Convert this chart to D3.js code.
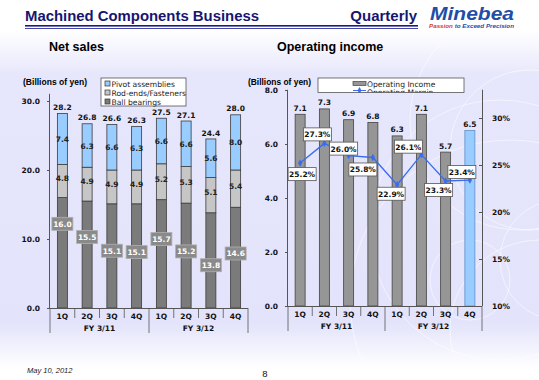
<!DOCTYPE html>
<html><head><meta charset="utf-8">
<script src="https://cdn.jsdelivr.net/npm/d3@7/dist/d3.min.js"></script>
<style>html,body{margin:0;padding:0;background:#fff;}svg{display:block;}</style>
</head><body>
<svg id="c" width="539" height="380"></svg>
<script>
// ---- data ----
const quarters = ["1Q","2Q","3Q","4Q","1Q","2Q","3Q","4Q"];
const fiscalYears = ["FY 3/11","FY 3/12"];
const ballBearings = [16.0,15.5,15.1,15.1,15.7,15.2,13.8,14.6];
const rodEnds      = [4.8,4.9,4.9,4.9,5.2,5.3,5.1,5.4];
const pivotAssemb  = [7.4,6.3,6.6,6.3,6.6,6.6,5.6,8.0];
const netTotals    = [28.2,26.8,26.6,26.3,27.5,27.1,24.4,28.0];
const opIncome     = [7.1,7.3,6.9,6.8,6.3,7.1,5.7,6.5];
const opMargin     = [25.2,27.3,26.0,25.8,22.9,26.1,23.3,23.4];
const salesTicks   = [0,10,20,30];
const incomeTicks  = [0,2,4,6,8];
const marginTicks  = [10,15,20,25,30];
const salesLegend  = ["Pivot assemblies","Rod-ends/Fasteners","Ball bearings"];
const incomeLegend = ["Operating Income","Operating Margin"];
// layout-only: where the (hand-placed) ball-bearing labels sit, in axis units
const ballLabelAt  = [12.2,10.3,8.3,8.1,10.0,8.2,6.2,7.9];
// layout-only: margin label offsets from their points (px)
const marginLabelOff = [[2,11],[-7,-9],[-5,-7],[-10,12],[-6,9],[-13,-8],[-7,9],[-8,-8]];

const svg = d3.select("#c");
const defs = svg.append("defs");
const g = defs.append("linearGradient").attr("id","bg").attr("x1",0).attr("y1",0).attr("x2",0).attr("y2",1);
g.append("stop").attr("offset","0%").attr("stop-color","#ffffff");
g.append("stop").attr("offset","8%").attr("stop-color","#ffffff");
g.append("stop").attr("offset","20%").attr("stop-color","#e6e6fc");
g.append("stop").attr("offset","85%").attr("stop-color","#e3e3fb");
g.append("stop").attr("offset","97%").attr("stop-color","#ffffff");
svg.append("rect").attr("width",539).attr("height",380).attr("fill","url(#bg)");

// faint decorative arcs
const deco = svg.append("g").attr("fill","none").attr("stroke","#ffffff").attr("stroke-opacity",0.55);
[[520,120,110],[530,150,80],[560,260,60],[500,230,130],[470,280,40],[540,330,90],[510,300,160]].forEach(([cx,cy,r])=>{
  deco.append("circle").attr("cx",cx).attr("cy",cy).attr("r",r).attr("stroke-width",1);
});

const vfont = "DejaVu Sans, Verdana, sans-serif";
const afont = "Liberation Sans, Arial, sans-serif";
const tfs = 7.5;

// header
const navy = "#161670";
svg.append("text").attr("x",25).attr("y",21).attr("font-family",afont)
  .attr("font-weight","bold").attr("font-size",14.5).attr("fill",navy)
  .attr("textLength",234).attr("lengthAdjust","spacingAndGlyphs").text("Machined Components Business");
svg.append("text").attr("x",417).attr("y",21).attr("text-anchor","end").attr("font-family",afont)
  .attr("font-weight","bold").attr("font-size",15).attr("fill",navy).text("Quarterly");
svg.append("rect").attr("x",25).attr("y",25).attr("width",393).attr("height",1.6).attr("fill","#1a1a90");
svg.append("rect").attr("x",25).attr("y",28).attr("width",393).attr("height",0.8).attr("fill","#1a1a90");
svg.append("text").attr("x",430).attr("y",20).attr("font-family",afont)
  .attr("font-weight","bold").attr("font-style","italic").attr("font-size",18).attr("fill","#1f4ea8")
  .attr("textLength",84).attr("lengthAdjust","spacingAndGlyphs").text("Minebea");
const tag = svg.append("text").attr("x",429).attr("y",28).attr("font-family",afont)
  .attr("font-weight","bold").attr("font-style","italic").attr("font-size",5.6)
  .attr("textLength",85).attr("lengthAdjust","spacingAndGlyphs");
tag.append("tspan").attr("fill","#d2401e").text("Passion ");
tag.append("tspan").attr("fill","#1f4ea8").text("to Exceed Precision");

svg.append("text").attr("x",49).attr("y",51).attr("font-family",afont)
  .attr("font-weight","bold").attr("font-size",12.5).attr("fill","#000").text("Net sales");
svg.append("text").attr("x",277).attr("y",51).attr("font-family",afont)
  .attr("font-weight","bold").attr("font-size",12.5).attr("fill","#000").text("Operating income");

// ---------- Net sales chart ----------
const L = {x0:50, x1:248, y0:308, y1:101};
const xL = d3.scaleBand().domain(d3.range(8)).range([L.x0,L.x1]);
const yL = d3.scaleLinear().domain([0,30]).range([L.y0,L.y1]);
const gL = svg.append("g");

gL.append("text").attr("x",23).attr("y",85).attr("font-family",afont).attr("font-weight","bold")
  .attr("font-size",9).attr("textLength",64).attr("lengthAdjust","spacingAndGlyphs").text("(Billions of yen)");

const axL = gL.append("g").attr("transform",`translate(${L.x0},0)`)
  .call(d3.axisLeft(yL).tickValues(salesTicks).tickFormat(d3.format(".1f")).tickSize(3).tickPadding(7));
axL.select(".domain").attr("stroke","#555").attr("d",`M-0.5,${yL(0)}V${yL(31)}H0`);
axL.selectAll(".tick line").attr("stroke","#555");
axL.selectAll("text").attr("font-family",vfont).attr("font-weight","bold").attr("font-size",tfs).attr("fill","#111");

const bw = 10;
const stackData = d3.range(8).map(i=>({i, ball:ballBearings[i], rod:rodEnds[i], piv:pivotAssemb[i]}));
const stacked = d3.stack().keys(["ball","rod","piv"])(stackData);
const colors = {ball:"#7b7b7b", rod:"#c6c6c6", piv:"#99ccff"};
stacked.forEach(layer=>{
  gL.append("g").selectAll("rect").data(layer).join("rect")
    .attr("x",d=>xL(d.data.i)+xL.bandwidth()/2-bw/2).attr("width",bw)
    .attr("y",d=>yL(d[1])).attr("height",d=>yL(d[0])-yL(d[1]))
    .attr("fill",colors[layer.key]).attr("stroke","#3c3c3c").attr("stroke-width",0.8);
});
// totals
gL.append("g").selectAll("text").data(netTotals).join("text")
  .attr("x",(d,i)=>xL(i)+xL.bandwidth()/2).attr("y",d=>yL(d)-3.5).attr("text-anchor","middle")
  .attr("font-family",vfont).attr("font-weight","bold").attr("font-size",tfs).attr("fill","#111")
  .text(d=>d.toFixed(1));
// pivot labels
const pivL = stacked[2];
gL.append("g").selectAll("text").data(pivL).join("text")
  .attr("x",d=>xL(d.data.i)+xL.bandwidth()/2).attr("y",d=>yL((d[0]+d[1])/2)+3)
  .attr("text-anchor","middle").attr("font-family",vfont).attr("font-weight","bold").attr("font-size",tfs).attr("fill","#222")
  .text(d=>d.data.piv.toFixed(1));
const rodL = stacked[1];
gL.append("g").selectAll("text").data(rodL).join("text")
  .attr("x",d=>xL(d.data.i)+xL.bandwidth()/2).attr("y",d=>yL((d[0]+d[1])/2+0.4)+3)
  .attr("text-anchor","middle").attr("font-family",vfont).attr("font-weight","bold").attr("font-size",tfs).attr("fill","#222")
  .text(d=>d.data.rod.toFixed(1));
// ball labels in boxes
const bl = gL.append("g").selectAll("g").data(ballBearings).join("g")
  .attr("transform",(d,i)=>`translate(${xL(i)+xL.bandwidth()/2},${yL(ballLabelAt[i])})`);
bl.append("rect").attr("x",-10.5).attr("y",-6.5).attr("width",21).attr("height",13)
  .attr("fill","#8a8a8a").attr("stroke","#b0b0b0").attr("stroke-width",0.8);
bl.append("text").attr("y",3).attr("text-anchor","middle").attr("font-family",vfont).attr("font-weight","bold")
  .attr("font-size",tfs).attr("fill","#fff").text(d=>d.toFixed(1));

// x axis
function catAxis(gp, x, y0, xa, xb){
  gp.append("line").attr("x1",xa).attr("x2",xb).attr("y1",y0+0.5).attr("y2",y0+0.5).attr("stroke","#555");
  d3.range(9).forEach(k=>{
    const xx = k<8 ? x(k) : xb;
    const long = (k%4===0);
    gp.append("line").attr("x1",xx).attr("x2",xx).attr("y1",y0).attr("y2",y0+(long?25:10)).attr("stroke","#555").attr("stroke-width",0.8);
  });
  gp.append("g").selectAll("text").data(quarters).join("text")
    .attr("x",(d,i)=>x(i)+x.bandwidth()/2).attr("y",y0+11).attr("text-anchor","middle")
    .attr("font-family",vfont).attr("font-weight","bold").attr("font-size",tfs).attr("fill","#111").text(d=>d);
  gp.append("g").selectAll("text").data(fiscalYears).join("text")
    .attr("x",(d,i)=>(x(i*4)+ (i===1?xb:x(4)))/2).attr("y",y0+23).attr("text-anchor","middle")
    .attr("font-family",vfont).attr("font-weight","bold").attr("font-size",tfs).attr("fill","#111").text(d=>d);
}
catAxis(gL, xL, L.y0, L.x0, L.x1);

// legend left
const lgL = gL.append("g");
lgL.append("rect").attr("x",101).attr("y",78).attr("width",85).attr("height",28).attr("fill","#fff").attr("stroke","#555").attr("stroke-width",0.8);
const lcol = [colors.piv, colors.rod, colors.ball];
salesLegend.forEach((t,k)=>{
  const yy = 83.5 + k*9;
  lgL.append("rect").attr("x",105).attr("y",yy-2.5).attr("width",5).attr("height",5).attr("fill",lcol[k]).attr("stroke","#333").attr("stroke-width",0.7);
  lgL.append("text").attr("x",111.5).attr("y",yy+3).attr("font-family",vfont).attr("font-size",7.6).attr("fill","#222").text(t);
});

// ---------- Operating income chart ----------
const R = {x0:288, x1:482, y0:306, y1:90};
const xR = d3.scaleBand().domain(d3.range(8)).range([R.x0,R.x1]);
const yR = d3.scaleLinear().domain([0,8]).range([R.y0,R.y1]);
const yM = d3.scaleLinear().domain([10,10+(R.y0-R.y1)/9.4]).range([R.y0,R.y1]);
const gR = svg.append("g");

gR.append("text").attr("x",248).attr("y",85).attr("font-family",afont).attr("font-weight","bold")
  .attr("font-size",9).attr("textLength",63).attr("lengthAdjust","spacingAndGlyphs").text("(Billions of yen)");

const axR = gR.append("g").attr("transform",`translate(${R.x0},0)`)
  .call(d3.axisLeft(yR).tickValues(incomeTicks).tickFormat(d3.format(".1f")).tickSize(3).tickPadding(7));
axR.select(".domain").attr("stroke","#555").attr("d",`M-0.5,${yR(0)}V${yR(8)}H0`);
axR.selectAll(".tick line").attr("stroke","#555");
axR.selectAll("text").attr("font-family",vfont).attr("font-weight","bold").attr("font-size",tfs).attr("fill","#111");

const axM = gR.append("g").attr("transform",`translate(${R.x1},0)`)
  .call(d3.axisRight(yM).tickValues(marginTicks).tickFormat(d=>d+"%").tickSize(3).tickPadding(7));
axM.select(".domain").attr("stroke","#555").attr("d",`M0.5,${R.y0}V${R.y1}H0`);
axM.selectAll(".tick line").attr("stroke","#555").attr("x1",-3).attr("x2",0);
axM.selectAll("text").attr("font-family",vfont).attr("font-weight","bold").attr("font-size",tfs).attr("fill","#111");

gR.append("g").selectAll("rect").data(opIncome).join("rect")
  .attr("x",(d,i)=>xR(i)+xR.bandwidth()/2-bw/2).attr("width",bw)
  .attr("y",d=>yR(d)).attr("height",d=>yR(0)-yR(d))
  .attr("fill",(d,i)=>i===7?"#99ccff":"#969696").attr("stroke",(d,i)=>i===7?"#5f8fc8":"#444").attr("stroke-width",0.8);
gR.append("g").selectAll("text").data(opIncome).join("text")
  .attr("x",(d,i)=>xR(i)+xR.bandwidth()/2).attr("y",d=>yR(d)-3.5).attr("text-anchor","middle")
  .attr("font-family",vfont).attr("font-weight","bold").attr("font-size",tfs).attr("fill","#111").text(d=>d.toFixed(1));

catAxis(gR, xR, R.y0, R.x0, R.x1);

// margin line
const lineGen = d3.line().x((d,i)=>xR(i)+xR.bandwidth()/2).y(d=>yM(d));
gR.append("path").datum(opMargin).attr("d",lineGen).attr("fill","none").attr("stroke","#3a6cf0").attr("stroke-width",1.3);
gR.append("g").selectAll("path").data(opMargin).join("path")
  .attr("transform",(d,i)=>`translate(${xR(i)+xR.bandwidth()/2},${yM(d)})`)
  .attr("d",d3.symbol(d3.symbolDiamond,16)).attr("fill","#3a6cf0");
const ml = gR.append("g").selectAll("g").data(opMargin).join("g")
  .attr("transform",(d,i)=>`translate(${xR(i)+xR.bandwidth()/2+marginLabelOff[i][0]},${yM(d)+marginLabelOff[i][1]})`);
ml.append("rect").attr("x",-14).attr("y",-6.5).attr("width",28).attr("height",13)
  .attr("fill","#fff").attr("stroke","#555").attr("stroke-width",0.8);
ml.append("text").attr("y",3).attr("text-anchor","middle").attr("font-family",vfont).attr("font-weight","bold")
  .attr("font-size",tfs).attr("fill","#111").text(d=>d.toFixed(1)+"%");

// legend right (clipped at bottom)
defs.append("clipPath").attr("id","lgclip").append("rect").attr("x",318).attr("y",78).attr("width",146).attr("height",14.5);
const lgR = gR.append("g");
lgR.append("rect").attr("x",318).attr("y",78).attr("width",146).attr("height",14.5).attr("fill","#fff");
const lgRi = lgR.append("g").attr("clip-path","url(#lgclip)");
lgRi.append("rect").attr("x",353).attr("y",81.5).attr("width",13).attr("height",4).attr("fill","#969696").attr("stroke","#444").attr("stroke-width",0.7);
lgRi.append("text").attr("x",367).attr("y",86.5).attr("font-family",vfont).attr("font-size",7.6).attr("fill","#222").text(incomeLegend[0]);
lgRi.append("line").attr("x1",353).attr("x2",366).attr("y1",90.5).attr("y2",90.5).attr("stroke","#3a6cf0").attr("stroke-width",1.2);
lgRi.append("path").attr("transform","translate(359.5,90.5)").attr("d",d3.symbol(d3.symbolDiamond,14)).attr("fill","#3a6cf0");
lgRi.append("text").attr("x",367).attr("y",94.5).attr("font-family",vfont).attr("font-size",7.6).attr("fill","#222").text(incomeLegend[1]);
lgR.append("rect").attr("x",318).attr("y",78).attr("width",146).attr("height",14.5).attr("fill","none").attr("stroke","#555").attr("stroke-width",0.8);

// footer
svg.append("text").attr("x",27).attr("y",373).attr("font-family",afont).attr("font-style","italic")
  .attr("font-size",7.5).attr("fill","#222").text("May 10, 2012");
svg.append("text").attr("x",265).attr("y",377).attr("text-anchor","middle").attr("font-family",afont)
  .attr("font-size",9.5).attr("fill","#111").text("8");
</script>
</body></html>
